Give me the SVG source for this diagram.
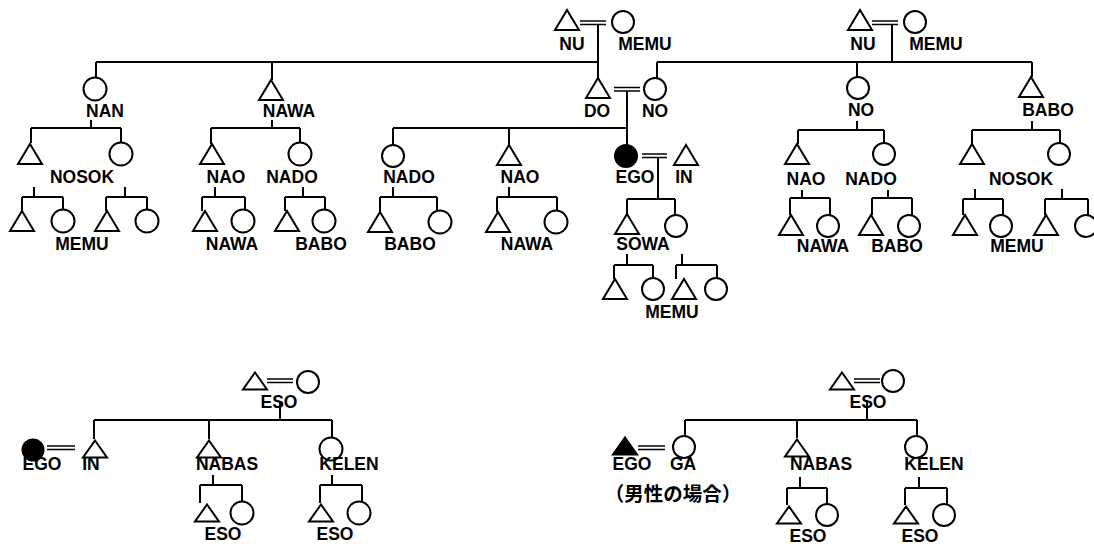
<svg xmlns="http://www.w3.org/2000/svg" xmlns:xlink="http://www.w3.org/1999/xlink" width="1094" height="546" viewBox="0 0 1094 546">
<style>
.s{fill:none;stroke:#000;stroke-width:2}
.f{fill:#000;stroke:#000;stroke-width:2}
.l{fill:none;stroke:#000;stroke-width:2}
.m{fill:none;stroke:#000;stroke-width:1.7}
text{font-family:"Liberation Sans",Arial,sans-serif;font-weight:bold;font-size:17.5px;fill:#000;text-anchor:middle}
.j{font-family:"Liberation Sans","Noto Sans CJK JP",sans-serif;font-size:19.5px}
</style>
<defs>
<path id="tri" d="M0,-10 L12,10 L-12,10 Z"/>
<path id="tris" d="M0,-8.5 L12,8.5 L-12,8.5 Z"/>
</defs>
<rect width="1094" height="546" fill="#fff"/>
<g id="connectors">
<!-- marriages -->
<path class="m" d="M580,21H606M580,24.5H606"/>
<path class="m" d="M872,21H898M872,24.5H898"/>
<path class="m" d="M614,87.5H640M614,91H640"/>
<path class="m" d="M642,154H667M642,157.5H667"/>
<path class="m" d="M267,379H293M267,382.5H293"/>
<path class="m" d="M47,446H75M47,449.5H75"/>
<path class="m" d="M854,379H880M854,382.5H880"/>
<path class="m" d="M638,446H665M638,449.5H665"/>
<!-- top descent -->
<path class="l" d="M598,25V78M96,62H598M96,62V78M272,62V80"/>
<path class="l" d="M892,25V62M657,62H1032M657,62V78M857,62V77M1032,62V77"/>
<!-- gen2 to gen3 -->
<path class="l" d="M91,120V128M31,128H121M31,128V143M121,128V143"/>
<path class="l" d="M272,120V128M211,128H300M211,128V144M300,128V143"/>
<path class="l" d="M627,91V128M393,128H627M393,128V145M509,128V145M627,128V145"/>
<path class="l" d="M857,121V130M798,130H884M798,130V144M884,130V143"/>
<path class="l" d="M1032,121V130M972,130H1060M972,130V144M1060,130V143"/>
<path class="l" d="M658,157V199M627,199H675M627,199V214M675,199V215"/>
<!-- gen3 to gen4 -->
<path class="l" d="M34,187V197M22,197H63M22,197V211M63,197V210"/>
<path class="l" d="M125,187V197M106,197H147M106,197V211M147,197V210"/>
<path class="l" d="M215,187V197M202,197H245M202,197V211M245,197V210"/>
<path class="l" d="M303,187V197M285,197H325M285,197V211M325,197V210"/>
<path class="l" d="M393,187V197M380,197H437M380,197V212M437,197V211"/>
<path class="l" d="M509,187V197M497,197H557M497,197V212M557,197V211"/>
<path class="l" d="M802,190V198M790,198H830M790,198V215M830,198V215"/>
<path class="l" d="M888,190V198M872,198H912M872,198V215M912,198V215"/>
<path class="l" d="M975,189V199M963,199H1003M963,199V215M1003,199V215"/>
<path class="l" d="M1062,189V199M1045,199H1088M1045,199V215M1088,199V215"/>
<path class="l" d="M627,254V265M614,265H653M614,265V279M653,265V278"/>
<path class="l" d="M682,254V265M676,265H717M676,265V279M717,265V278"/>
<!-- bottom left -->
<path class="l" d="M280,401V420M94,420H332M94,420V439M209,420V439M332,420V438"/>
<path class="l" d="M213,475V485M200,485H242M200,485V503M242,485V502"/>
<path class="l" d="M332,475V485M320,485H362M320,485V503M362,485V502"/>
<!-- bottom right -->
<path class="l" d="M867,401V420M685,420H917M685,420V436M797,420V438M917,420V436"/>
<path class="l" d="M800,477V488M787,488H827M787,488V505M827,488V504"/>
<path class="l" d="M919,477V488M905,488H947M905,488V505M947,488V504"/>
</g>
<!-- top couple 1 -->
<g id="nu1"><use href="#tri" x="567" y="20" class="s"/><text x="572" y="50">NU</text></g>
<g id="memu1"><circle cx="623" cy="22" r="11" class="s"/><text x="645" y="50">MEMU</text></g>
<!-- top couple 2 -->
<g id="nu2"><use href="#tri" x="860" y="20" class="s"/><text x="863" y="50">NU</text></g>
<g id="memu2"><circle cx="915" cy="22" r="11" class="s"/><text x="936" y="50">MEMU</text></g>
<!-- gen2 -->
<g id="nan"><circle cx="95" cy="89" r="11.5" class="s"/><text x="105" y="117">NAN</text></g>
<g id="nawa"><use href="#tri" x="271" y="90" class="s"/><text x="289" y="117">NAWA</text></g>
<g id="do"><use href="#tri" x="598" y="88" class="s"/><text x="597" y="117">DO</text></g>
<g id="no1"><circle cx="655" cy="89" r="11" class="s"/><text x="655" y="117">NO</text></g>
<g id="no2"><circle cx="858" cy="88" r="11" class="s"/><text x="861" y="116">NO</text></g>
<g id="babo"><use href="#tri" x="1031" y="87" class="s"/><text x="1048" y="116">BABO</text></g>
<!-- gen3 -->
<g id="nan-s"><use href="#tri" x="30" y="154" class="s"/></g>
<g id="nan-d"><circle cx="121" cy="154" r="11.5" class="s"/><text x="82" y="183">NOSOK</text></g>
<g id="nawa-s"><use href="#tri" x="212" y="154" class="s"/><text x="226" y="183">NAO</text></g>
<g id="nawa-d"><circle cx="300" cy="154" r="11.5" class="s"/><text x="292" y="183">NADO</text></g>
<g id="nado-m"><circle cx="393" cy="156" r="11" class="s"/><text x="409" y="183">NADO</text></g>
<g id="nao-m"><use href="#tri" x="509" y="155" class="s"/><text x="520" y="183">NAO</text></g>
<g id="ego1"><circle cx="626" cy="156" r="11" class="f"/><text x="635" y="183">EGO</text></g>
<g id="in1"><use href="#tri" x="686" y="155" class="s"/><text x="684" y="183">IN</text></g>
<g id="nao-r"><use href="#tri" x="797" y="154" class="s"/><text x="806" y="185">NAO</text></g>
<g id="nado-r"><circle cx="884" cy="154" r="11" class="s"/><text x="871" y="185">NADO</text></g>
<g id="babo-s"><use href="#tri" x="972" y="154" class="s"/></g>
<g id="babo-d"><circle cx="1059" cy="154" r="11" class="s"/><text x="1021" y="185">NOSOK</text></g>
<!-- gen4 -->
<g id="g4-1"><use href="#tri" x="22" y="221" class="s"/></g>
<g id="g4-2"><circle cx="63" cy="221" r="11.5" class="s"/><text x="82" y="250">MEMU</text></g>
<g id="g4-3"><use href="#tri" x="107" y="221" class="s"/></g>
<g id="g4-4"><circle cx="147" cy="221" r="11.5" class="s"/></g>
<g id="g4-5"><use href="#tri" x="205" y="221" class="s"/></g>
<g id="g4-6"><circle cx="243" cy="221" r="11.5" class="s"/><text x="232" y="250">NAWA</text></g>
<g id="g4-7"><use href="#tri" x="287" y="221" class="s"/></g>
<g id="g4-8"><circle cx="324" cy="221" r="11.5" class="s"/><text x="321" y="250">BABO</text></g>
<g id="g4-9"><use href="#tri" x="380" y="222" class="s"/></g>
<g id="g4-10"><circle cx="440" cy="222" r="11.5" class="s"/><text x="410" y="250">BABO</text></g>
<g id="g4-11"><use href="#tri" x="498" y="222" class="s"/></g>
<g id="g4-12"><circle cx="556" cy="222" r="11.5" class="s"/><text x="527" y="250">NAWA</text></g>
<g id="sowa"><use href="#tri" x="627" y="224" class="s"/><text x="643" y="250">SOWA</text></g>
<g id="sowa-sis"><circle cx="676" cy="226" r="11" class="s"/></g>
<g id="g4-13"><use href="#tri" x="791" y="225" class="s"/></g>
<g id="g4-14"><circle cx="828" cy="226" r="11" class="s"/><text x="823" y="252">NAWA</text></g>
<g id="g4-15"><use href="#tri" x="871" y="225" class="s"/></g>
<g id="g4-16"><circle cx="909" cy="226" r="11" class="s"/><text x="897" y="252">BABO</text></g>
<g id="g4-17"><use href="#tri" x="965" y="225" class="s"/></g>
<g id="g4-18"><circle cx="1001" cy="226" r="11" class="s"/><text x="1017" y="252">MEMU</text></g>
<g id="g4-19"><use href="#tri" x="1046" y="225" class="s"/></g>
<g id="g4-20"><circle cx="1086" cy="226" r="11" class="s"/></g>
<!-- gen5 -->
<g id="g5-1"><use href="#tri" x="615" y="289" class="s"/></g>
<g id="g5-2"><circle cx="653" cy="289" r="11" class="s"/></g>
<g id="g5-3"><use href="#tri" x="684" y="289" class="s"/><text x="672" y="318">MEMU</text></g>
<g id="g5-4"><circle cx="716" cy="289" r="11" class="s"/></g>
<!-- bottom left -->
<g id="bl-f"><use href="#tris" x="255" y="381" class="s"/></g>
<g id="bl-m"><circle cx="308" cy="382" r="11" class="s"/><text x="279" y="408">ESO</text></g>
<g id="ego2"><circle cx="33" cy="450" r="10.5" class="f"/><text x="42" y="470">EGO</text></g>
<g id="in2"><use href="#tris" x="95" y="449" class="s"/><text x="91" y="470">IN</text></g>
<g id="nabas1"><use href="#tris" x="209" y="449" class="s"/><text x="227" y="470">NABAS</text></g>
<g id="kelen1"><circle cx="331" cy="449" r="11.5" class="s"/><text x="349" y="470">KELEN</text></g>
<g id="bl-1"><use href="#tris" x="207" y="513" class="s"/></g>
<g id="bl-2"><circle cx="242" cy="513" r="11.5" class="s"/><text x="223" y="540">ESO</text></g>
<g id="bl-3"><use href="#tris" x="321" y="513" class="s"/></g>
<g id="bl-4"><circle cx="359" cy="513" r="11.5" class="s"/><text x="335" y="540">ESO</text></g>
<!-- bottom right -->
<g id="br-f"><use href="#tris" x="842" y="381" class="s"/></g>
<g id="br-m"><circle cx="893" cy="381" r="11" class="s"/><text x="868" y="408">ESO</text></g>
<g id="ego3"><use href="#tris" x="625" y="446" class="f"/><text x="632" y="470">EGO</text><text class="j" x="673" y="501">（男性の場合）</text></g>
<g id="ga"><circle cx="684" cy="447" r="11" class="s"/><text x="683" y="470">GA</text></g>
<g id="nabas2"><use href="#tris" x="797" y="448" class="s"/><text x="821" y="470">NABAS</text></g>
<g id="kelen2"><circle cx="916" cy="447" r="11" class="s"/><text x="934" y="470">KELEN</text></g>
<g id="br-1"><use href="#tris" x="789" y="515" class="s"/></g>
<g id="br-2"><circle cx="827" cy="515" r="11" class="s"/><text x="808" y="542">ESO</text></g>
<g id="br-3"><use href="#tris" x="906" y="515" class="s"/></g>
<g id="br-4"><circle cx="944" cy="515" r="11" class="s"/><text x="920" y="542">ESO</text></g>
</svg>
